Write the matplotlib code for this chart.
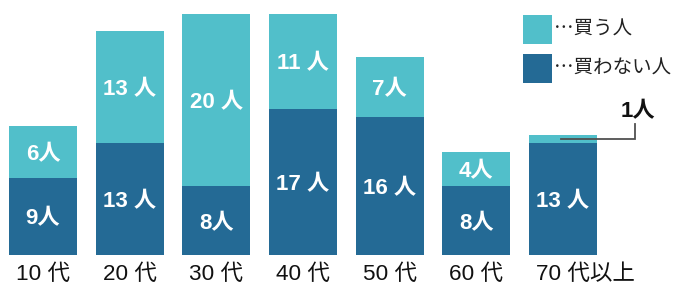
import matplotlib
matplotlib.use("Agg")
import matplotlib.pyplot as plt
from matplotlib.patches import Rectangle

plt.rcParams['font.family'] = ['Noto Sans CJK JP', 'DejaVu Sans']
MIX = ['Liberation Sans', 'Noto Sans CJK JP']

categories = ["10 代", "20 代", "30 代", "40 代", "50 代", "60 代", "70 代以上"]
not_buy = [9, 13, 8, 17, 16, 8, 13]
buy = [6, 13, 20, 11, 7, 4, 1]
not_buy_labels = ["9人", "13 人", "8人", "17 人", "16 人", "8人", "13 人"]
buy_labels = ["6人", "13 人", "20 人", "11 人", "7人", "4人", ""]
legend_labels = ["…買う人", "…買わない人"]
note_label = "1人"

c_buy = "#51BFCA"
c_not = "#246A95"

W, H = 675, 284
fig = plt.figure(figsize=(W / 100, H / 100), dpi=100)
ax = fig.add_axes([0, 0, 1, 1])
step = 86.67
scale = 8.607
ax.set_xlim(-43 / step, (W - 43) / step)
ax.set_ylim(-29 / scale, (H - 29) / scale)
ax.axis("off")

x = list(range(len(categories)))
bw = 68 / step
ax.bar(x, not_buy, width=bw, color=c_not, linewidth=0)
ax.bar(x, buy, width=bw, bottom=not_buy, color=c_buy, linewidth=0)

half_digit = 8.2 / scale
for i in x:
    ax.text(i, not_buy[i] / 2 - half_digit, not_buy_labels[i], color="white", fontsize=16,
            fontweight="bold", ha="center", va="baseline", family=MIX)
    if buy_labels[i]:
        ax.text(i, not_buy[i] + buy[i] / 2 - half_digit, buy_labels[i], color="white",
                fontsize=16, fontweight="bold", ha="center", va="baseline", family=MIX)
    ax.text(i - bw / 2 + 7 / step, -25 / scale, categories[i], color="#111111",
            fontsize=16.2, ha="left", va="baseline", family=MIX)

# legend (figure pixel coordinates)
def px(xp, yp):
    return (xp / W, 1 - yp / H)

for k, (col, lab) in enumerate([(c_buy, legend_labels[0]), (c_not, legend_labels[1])]):
    y0 = 15 + k * 39
    fig.patches.append(Rectangle(px(523, y0 + 29), 29 / W, 29 / H, transform=fig.transFigure,
                                 facecolor=col, edgecolor="none"))
    fig.text(*px(554, y0 + 14.5), lab, fontsize=14, color="#222222", ha="left", va="center")

# annotation for the 1 person segment
i = 6
yseg = not_buy[i] + buy[i] / 2
xa = i - 0.02
ax.plot([xa, (635 - 43) / step, (635 - 43) / step],
        [yseg, yseg, (284 - 124 - 29) / scale], color="#505050", linewidth=1.3,
        solid_joinstyle="miter")
fig.text(*px(621, 117), note_label, fontsize=16, fontweight="bold", color="#111111",
         ha="left", va="baseline", family=MIX)

fig.savefig("out.png", dpi=100)
